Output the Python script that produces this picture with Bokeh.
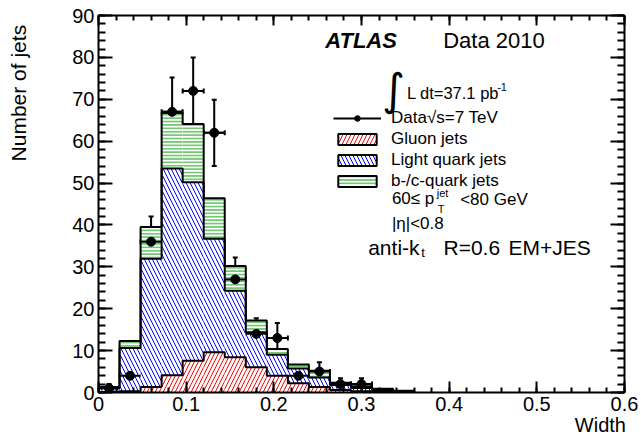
import numpy as np
from bokeh.plotting import figure
from bokeh.models import (ColumnDataSource, Range1d, LinearAxis, FixedTicker,
                          CustomJSTickFormatter, Label, Legend, LegendItem, Whisker, TeeHead)
from bokeh.embed import file_html
from bokeh.resources import INLINE

# ---------------- data ----------------
bin_lo = [0.000, 0.024, 0.048, 0.072, 0.096, 0.120, 0.144, 0.168, 0.192, 0.216,
          0.240, 0.264, 0.288, 0.312, 0.336]
bin_hi = [0.024, 0.048, 0.072, 0.096, 0.120, 0.144, 0.168, 0.192, 0.216, 0.240,
          0.264, 0.288, 0.312, 0.336, 0.360]
gluon = [0.1, 0.3, 1.3, 4.1, 7.6, 9.6, 8.4, 6.0, 4.0, 2.2, 1.3, 0.6, 0.3, 0.1, 0.05]
light = [0.9, 10.3, 30.6, 49.4, 42.6, 27.1, 15.9, 8.4, 5.0, 3.5, 2.3, 1.2, 0.8, 0.5, 0.25]
bcquark = [0.3, 1.7, 7.6, 13.2, 13.9, 9.7, 5.9, 2.8, 1.4, 1.0, 1.6, 0.5, 0.4, 0.3, 0.1]

data_y = [1, 4, 36, 67, 72, 62, 27, 14, 13, 4, 5, 2, 2]
data_err = [1.0, 2.0, 6.0, 8.2, 8.0, 7.9, 5.2, 3.7, 3.6, 2.0, 2.2, 1.4, 1.4]

x_major_ticks = [0.0, 0.1, 0.2, 0.3, 0.4, 0.5, 0.6]
y_major_ticks = [0, 10, 20, 30, 40, 50, 60, 70, 80, 90]

FONT = "Liberation Sans"
NBSP = "\u00a0"

# ---------------- derived stacks ----------------
lo = np.array(bin_lo)
hi = np.array(bin_hi)
g_top = np.array(gluon)
l_top = g_top + np.array(light)
b_top = l_top + np.array(bcquark)

hist = ColumnDataSource(dict(left=lo, right=hi, g0=np.zeros_like(g_top), g1=g_top,
                             l1=l_top, b1=b_top))

nd = len(data_y)
dy_arr = np.array(data_y, dtype=float)
de_arr = np.array(data_err, dtype=float)
dsrc = ColumnDataSource(dict(x=(lo[:nd] + hi[:nd]) / 2, xl=lo[:nd], xh=hi[:nd], y=dy_arr,
                             ylo=dy_arr - de_arr, yhi=dy_arr + de_arr))

x_minor = list(np.round(np.arange(0.0, 0.6001, 0.02), 3))
y_minor = list(np.arange(0, 91, 2))

# reference-pixel -> data helpers (for text placement only)
def dx(px):
    return (px - 98.3) / 876.7

def dy(py):
    return (392.0 - py) / 4.189

# ---------------- figure ----------------
p = figure(width=641, height=439, output_backend="svg", toolbar_location=None,
           x_range=Range1d(0, 0.6), y_range=Range1d(0, 90),
           min_border_left=98, min_border_right=17, min_border_top=15, min_border_bottom=47)
p.background_fill_color = "white"
p.border_fill_color = "white"
p.outline_line_color = None
p.grid.visible = False
p.extra_y_ranges = {"hidden": Range1d(1000, 2000)}

def style_axis(ax, major_in, minor_in, labels=True):
    ax.axis_line_color = "black"
    ax.axis_line_width = 2
    ax.major_tick_line_color = "black"
    ax.major_tick_line_width = 2
    ax.minor_tick_line_color = "black"
    ax.minor_tick_line_width = 2
    ax.major_tick_in = major_in
    ax.major_tick_out = 0
    ax.minor_tick_in = minor_in
    ax.minor_tick_out = 0
    if labels:
        ax.major_label_text_font = FONT
        ax.major_label_text_font_size = "20px"
        ax.major_label_text_color = "black"
        ax.major_label_standoff = 4
    else:
        ax.formatter = CustomJSTickFormatter(code="return ''")
        ax.major_label_standoff = 0

xaxis = p.xaxis[0]
yaxis = p.yaxis[0]
xaxis.ticker = FixedTicker(ticks=x_major_ticks, minor_ticks=x_minor)
xaxis.formatter = CustomJSTickFormatter(code="return (Math.round(tick*10)/10).toString()")
yaxis.ticker = FixedTicker(ticks=y_major_ticks, minor_ticks=y_minor)
style_axis(xaxis, 11, 5)
style_axis(yaxis, 14, 7)

top_ax = LinearAxis(ticker=FixedTicker(ticks=x_major_ticks, minor_ticks=x_minor))
style_axis(top_ax, 10, 5, labels=False)
p.add_layout(top_ax, "above")
right_ax = LinearAxis(ticker=FixedTicker(ticks=y_major_ticks, minor_ticks=y_minor))
style_axis(right_ax, 14, 7, labels=False)
p.add_layout(right_ax, "right")

# axis titles on bare helper axes; leading no-break spaces push the title towards
# the axis end, as ROOT aligns it
def title_axis(text, standoff, size):
    ax = LinearAxis(ticker=FixedTicker(ticks=[]), axis_label=text)
    ax.axis_line_color = None
    ax.major_tick_line_color = None
    ax.minor_tick_line_color = None
    ax.major_tick_in = 0
    ax.major_tick_out = 0
    ax.minor_tick_in = 0
    ax.minor_tick_out = 0
    ax.major_label_standoff = 0
    ax.axis_label_standoff = standoff
    ax.axis_label_text_font = FONT
    ax.axis_label_text_font_size = size
    ax.axis_label_text_font_style = "normal"
    ax.axis_label_text_color = "black"
    return ax

p.add_layout(title_axis(NBSP * 38 + "Number of jets", 40, "21px"), "left")
p.add_layout(title_axis(NBSP * 86 + "Width", 0, "20px"), "below")

# ---------------- stacked histograms ----------------
r_g = p.quad(left="left", right="right", bottom="g0", top="g1", source=hist,
             fill_color="white", line_color=None, hatch_pattern="/", hatch_color="red",
             hatch_scale=8, hatch_weight=1)
r_l = p.quad(left="left", right="right", bottom="g1", top="l1", source=hist,
             fill_color="white", line_color=None, hatch_pattern="\\", hatch_color="blue",
             hatch_scale=8, hatch_weight=1)
r_b = p.quad(left="left", right="right", bottom="l1", top="b1", source=hist,
             fill_color="white", line_color=None, hatch_pattern="-", hatch_color="#74c874",
             hatch_scale=3.4, hatch_weight=2)

# legend-only outline copies, drawn on a hidden range (off the frame)
outl = dict(fill_alpha=0, line_color="black", line_width=2, y_range_name="hidden")
o_g = p.quad(left="left", right="right", bottom="g0", top="g1", source=hist, **outl)
o_l = p.quad(left="left", right="right", bottom="g1", top="l1", source=hist, **outl)
o_b = p.quad(left="left", right="right", bottom="l1", top="b1", source=hist, **outl)

edges = np.concatenate([lo, hi[-1:]])
for top in (g_top, l_top, b_top):
    xs = np.repeat(edges, 2)
    ys = np.concatenate([[0.0], np.repeat(top, 2), [0.0]])
    p.line(xs, ys, line_color="black", line_width=2)

# ---------------- data points ----------------
r_h = p.segment(x0="xl", x1="xh", y0="y", y1="y", source=dsrc, line_color="black", line_width=2)
p.add_layout(Whisker(source=dsrc, base="x", lower="ylo", upper="yhi", dimension="height",
                     line_color="black", line_width=2,
                     lower_head=TeeHead(size=5, line_width=2, line_color="black"),
                     upper_head=TeeHead(size=5, line_width=2, line_color="black")))
p.add_layout(Whisker(source=dsrc, base="y", lower="xl", upper="xh", dimension="width",
                     line_color="black", line_width=2,
                     lower_head=TeeHead(size=5, line_width=2, line_color="black"),
                     upper_head=TeeHead(size=5, line_width=2, line_color="black")))
r_d = p.scatter(x="x", y="y", source=dsrc, marker="circle", size=9,
                fill_color="black", line_color="black")

# ---------------- legend ----------------
legend = Legend(items=[
    LegendItem(label="Data\u221as=7 TeV", renderers=[r_h, r_d]),
    LegendItem(label="Gluon jets", renderers=[r_g, o_g]),
    LegendItem(label="Light quark jets", renderers=[r_l, o_l]),
    LegendItem(label="b-/c-quark jets", renderers=[r_b, o_b]),
], location=(235, 201), glyph_width=48, glyph_height=14, label_height=14, spacing=1,
   label_standoff=10, padding=0, margin=0, border_line_alpha=0, background_fill_alpha=0,
   label_text_font=FONT, label_text_font_size="17px", label_text_color="black")
p.add_layout(legend)

# ---------------- texts ----------------
def txt(s, px, py, size, font=FONT, style="normal", align="left"):
    p.add_layout(Label(x=dx(px), y=dy(py), text=s, text_font=font, text_font_size=size,
                       text_font_style=style, text_align=align, text_baseline="middle",
                       text_color="black"))

txt("ATLAS", 325, 40, "22px", style="bold italic")
txt("Data 2010", 443, 40, "22px")
txt("\u222b", 393.5, 89, "44px", font="DejaVu Sans", align="center")
txt("L dt=37.1 pb", 406.7, 92.5, "16.5px")
txt("-1", 497, 86.5, "11px")
txt("60\u2264 p", 391.7, 198, "17px")
txt("jet", 436.5, 192.5, "11px")
txt("T", 437.5, 208.5, "11px")
txt("<80 GeV", 460, 199, "17px")
txt("|\u03b7|<0.8", 391.7, 222.5, "17px")
txt("anti-k", 368, 247, "21px")
txt("t", 421, 252, "13px")
txt("R=0.6", 443.3, 247, "21px")
txt("EM+JES", 508.3, 247, "21px")

open("out.html", "w").write(file_html(p, INLINE))
